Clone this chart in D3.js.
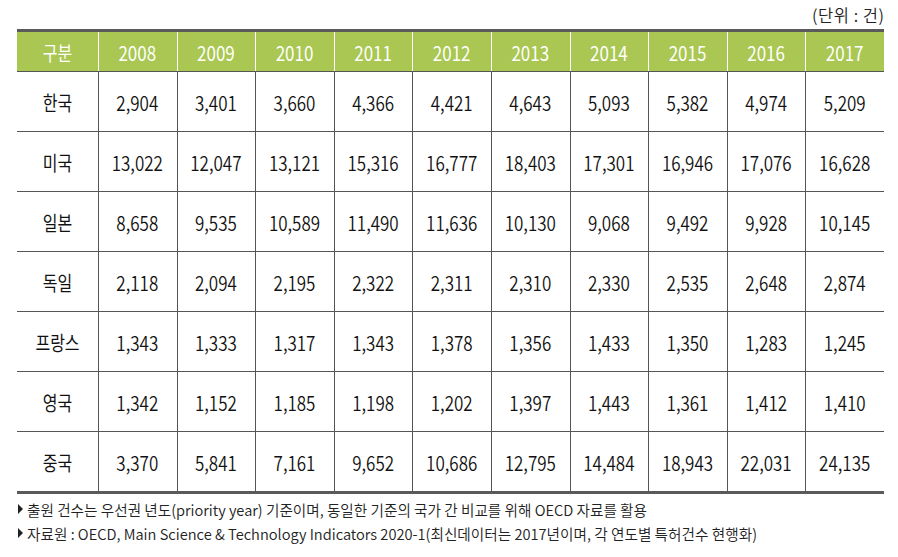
<!DOCTYPE html>
<html><head><meta charset="utf-8">
<script src="https://cdn.jsdelivr.net/npm/d3@7"></script>
<style>
html,body{margin:0;padding:0;background:#fff;}
svg{display:block;font-family:"Noto Sans CJK KR","Noto Sans",sans-serif;}
</style></head>
<body>
<svg id="chart" width="898" height="557"></svg>
<script>
const years = ["2008","2009","2010","2011","2012","2013","2014","2015","2016","2017"];
const countries = ["한국","미국","일본","독일","프랑스","영국","중국"];
const korea   = [2904,3401,3660,4366,4421,4643,5093,5382,4974,5209];
const usa     = [13022,12047,13121,15316,16777,18403,17301,16946,17076,16628];
const japan   = [8658,9535,10589,11490,11636,10130,9068,9492,9928,10145];
const germany = [2118,2094,2195,2322,2311,2310,2330,2535,2648,2874];
const france  = [1343,1333,1317,1343,1378,1356,1433,1350,1283,1245];
const uk      = [1342,1152,1185,1198,1202,1397,1443,1361,1412,1410];
const china   = [3370,5841,7161,9652,10686,12795,14484,18943,22031,24135];
const seriesValues = [korea, usa, japan, germany, france, uk, china];
const headerLabel = "구분";
const unitLabel = "(단위 : 건)";
const notes = [
  "출원 건수는 우선권 년도(priority year) 기준이며, 동일한 기준의 국가 간 비교를 위해 OECD 자료를 활용",
  "자료원 : OECD, Main Science & Technology Indicators 2020-1(최신데이터는 2017년이며, 각 연도별 특허건수 현행화)"
];

(function(){
const svg = d3.select("#chart");
const left = 17, right = 884, firstColRight = 98;
const tableTop = 31, headerBottom = 71, bottom = 491;
const green = "#a9c752", lineCol = "#555555";
const sx = 0.85, fs = 20, txt = "#111";

const x = d3.scaleBand().domain(years).range([firstColRight, right]);
const y = d3.scaleBand().domain(countries).range([headerBottom, bottom]);
const fmt = d3.format(",");

svg.append("rect").attr("x", left).attr("y", tableTop).attr("width", right-left).attr("height", headerBottom-tableTop).attr("fill", green);

svg.selectAll(".hv").data(years).enter().append("line")
  .attr("x1", d => Math.round(x(d))+0.5).attr("x2", d => Math.round(x(d))+0.5)
  .attr("y1", tableTop).attr("y2", headerBottom)
  .attr("stroke", "#fff").attr("stroke-width", 1);

svg.selectAll(".bv").data(years).enter().append("line")
  .attr("x1", d => Math.round(x(d))+0.5).attr("x2", d => Math.round(x(d))+0.5)
  .attr("y1", headerBottom).attr("y2", bottom)
  .attr("stroke", lineCol).attr("stroke-width", 1);

svg.selectAll(".hl").data(countries.slice(1)).enter().append("line")
  .attr("x1", left).attr("x2", right)
  .attr("y1", d => Math.round(y(d))+0.5).attr("y2", d => Math.round(y(d))+0.5)
  .attr("stroke", lineCol).attr("stroke-width", 1);
svg.append("line").attr("x1", left).attr("x2", right).attr("y1", headerBottom+0.5).attr("y2", headerBottom+0.5)
  .attr("stroke", lineCol).attr("stroke-width", 1.2);

svg.append("rect").attr("x", left).attr("y", tableTop-2).attr("width", right-left).attr("height", 3).attr("fill", "#5a5a5a");
svg.append("rect").attr("x", left).attr("y", bottom).attr("width", right-left).attr("height", 3).attr("fill", "#5a5a5a");

function cell(cx, cy, t, color, scale, weight) {
  svg.append("text")
    .attr("transform", `translate(${cx},${cy}) scale(${scale},1)`)
    .attr("text-anchor","middle").attr("dominant-baseline","central")
    .attr("fill", color).attr("font-size", fs).attr("font-weight", weight)
    .text(t);
}

const hy = (tableTop + headerBottom)/2 + 1;
cell((left+firstColRight)/2, hy, headerLabel, "#fff", 0.8, 400);
years.forEach(yr => cell(x(yr)+x.bandwidth()/2, hy, yr, "#fff", sx, 400));

countries.forEach((c, i) => {
  const cy = y(c) + y.bandwidth()/2 + 1;
  cell((left+firstColRight)/2, cy, c, txt, 0.8, 400);
  seriesValues[i].forEach((v, j) => cell(x(years[j]) + x.bandwidth()/2, cy, fmt(v), txt, sx, 350));
});

svg.append("text").attr("x", right).attr("y", 15).attr("text-anchor","end").attr("dominant-baseline","central")
  .attr("fill","#222").attr("font-size",16.5).attr("font-weight", 350)
  .attr("textLength", 72).attr("lengthAdjust","spacing").text(unitLabel);

const noteW = [620, 730];
notes.forEach((t, i) => {
  const ny = 509 + i*24;
  svg.append("path").attr("d", `M18,${ny-5}L23,${ny}L18,${ny+5}Z`).attr("fill","#222");
  svg.append("text").attr("x", 27).attr("y", ny).attr("dominant-baseline","central")
    .attr("fill","#222").attr("font-size",15).attr("font-weight", 350)
    .attr("textLength", noteW[i]).attr("lengthAdjust","spacingAndGlyphs").text(t);
});
})();
</script>
</body></html>
